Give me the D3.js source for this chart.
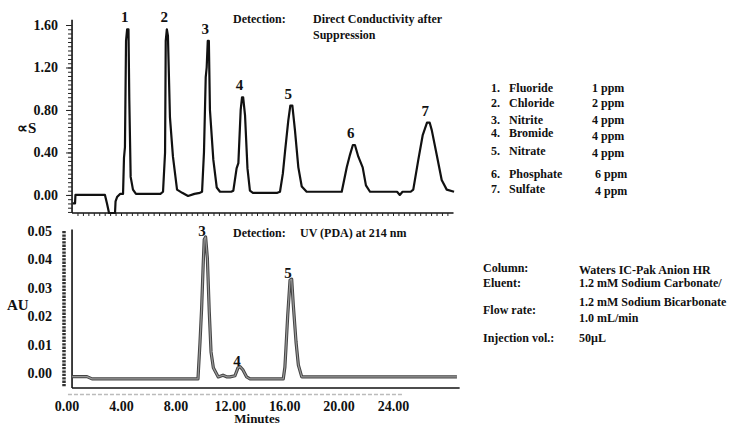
<!DOCTYPE html>
<html>
<head>
<meta charset="utf-8">
<script src="https://cdn.jsdelivr.net/npm/d3@7"></script>
<style>
  body { margin: 0; background: #fff; }
  svg text { font-family: 'Liberation Serif', 'Times New Roman', serif; font-weight: bold; fill: #111; }
</style>
</head>
<body>
<script>
// Conductivity trace (time in min, uS)
var conductivity = [
  [0.45,-0.08],[0.62,-0.08],[0.65,0.00],[2.82,0.00],[2.97,-0.08],[3.12,-0.17],[3.56,-0.17],[3.6,-0.06],[3.71,-0.02],[3.93,0.01],[4.15,0.01],
  [4.22,0.35],[4.29,0.45],[4.37,1.45],[4.45,1.56],[4.55,1.56],[4.61,0.90],[4.71,0.17],[4.88,0.05],[5.1,0.01],[6.9,0.01],
  [7.09,0.03],[7.24,0.40],[7.29,1.45],[7.37,1.56],[7.45,1.50],[7.6,0.73],[7.82,0.36],[8.12,0.05],[8.5,0.02],[8.93,-0.01],[9.4,0.01],[9.8,0.02],
  [9.96,0.03],[10.1,0.40],[10.23,1.11],[10.3,1.20],[10.38,1.45],[10.46,1.45],[10.54,0.80],[10.79,0.33],[11.04,0.07],[11.28,0.03],[12.1,0.03],
  [12.26,0.04],[12.5,0.25],[12.63,0.30],[12.8,0.80],[12.9,0.92],[12.98,0.92],[13.12,0.75],[13.3,0.25],[13.48,0.04],[13.7,0.02],[15.5,0.02],
  [15.69,0.03],[15.9,0.20],[16.07,0.42],[16.3,0.70],[16.45,0.84],[16.6,0.84],[16.79,0.61],[17.04,0.26],[17.29,0.08],[17.65,0.03],[20.0,0.03],
  [20.23,0.03],[20.6,0.26],[20.84,0.38],[21.05,0.47],[21.2,0.47],[21.45,0.36],[21.77,0.26],[22.01,0.09],[22.31,0.03],[24.3,0.03],[24.5,0.00],[24.7,0.03],[25.3,0.03],
  [25.49,0.05],[25.86,0.33],[26.18,0.56],[26.5,0.68],[26.7,0.68],[26.85,0.61],[27.21,0.38],[27.58,0.14],[27.95,0.05],[28.49,0.03]
];

// UV trace (time in min, AU)
var absorbance = [
  [0.42,-0.0013],[1.5,-0.0013],[1.87,-0.0021],[9.66,-0.0021],[9.81,0.0109],[9.93,0.0229],[10.05,0.039],[10.12,0.047],[10.22,0.0479],
  [10.35,0.0405],[10.49,0.0215],[10.62,0.0074],[10.79,0.0018],[11.15,-0.0014],[11.5,-0.0008],[11.8,-0.0014],[12.01,-0.0014],
  [12.38,-0.0010],[12.6,0.0018],[12.75,0.0022],[12.95,0.0012],[13.24,-0.0014],[13.49,-0.0021],[15.93,-0.0021],[16.05,0.002],
  [16.13,0.0088],[16.26,0.0204],[16.43,0.0327],[16.55,0.033],[16.67,0.0239],[16.87,0.0109],[17.04,0.0028],[17.29,-0.0014],[28.7,-0.0014]
];

// Peak numbers, retention times and apex heights
var topPeaks = ['1', '2', '3', '4', '5', '6', '7'];
var topPeakTimes = [4.5, 7.4, 10.42, 12.94, 16.52, 21.12, 26.6];
var topPeakHeights = [1.56, 1.56, 1.45, 0.92, 0.84, 0.47, 0.68];

var uvPeaks = ['3', '4', '5'];
var uvPeakTimes = [10.17, 12.75, 16.5];
var uvPeakHeights = [0.0479, 0.0022, 0.033];

var timeTicks = [0, 4, 8, 12, 16, 20, 24];
var condTicks = [0, 0.4, 0.8, 1.2, 1.6];
var uvTicks = [0, 0.01, 0.02, 0.03, 0.04, 0.05];

var legendNames = ['Fluoride', 'Chloride', 'Nitrite', 'Bromide', 'Nitrate', 'Phosphate', 'Sulfate'];
var legendConc = ['1 ppm', '2 ppm', '4 ppm', '4 ppm', '4 ppm', '6 ppm', '4 ppm'];

var condLabels = ['Column:', 'Eluent:', 'Flow rate:', 'Injection vol.:'];
var condValues = ['Waters IC-Pak Anion HR', '1.2 mM Sodium Carbonate/', '1.2 mM Sodium Bicarbonate', '1.0 mL/min', '50\u00b5L'];

var w = 747,
    h = 427;

var svg = d3.select('body')
            .append('svg')
            .attr('width', w)
            .attr('height', h);

var x = d3.scaleLinear()
          .domain([0, 28.9])
          .range([66.6, 66.6 + 28.9 * 13.6]);

var yTop = d3.scaleLinear()
             .domain([-0.17, 1.60])
             .range([213, 25]);

var yBot = d3.scaleLinear()
             .domain([-0.0053, 0.05])
             .range([388, 231]);

// ---- top panel axes
svg.append('line')
   .attr('x1', x(0.4)).attr('x2', x(0.4))
   .attr('y1', yTop(1.65)).attr('y2', yTop(-0.17))
   .style('stroke', '#111').style('stroke-width', 1.6);

svg.append('line')
   .attr('x1', x(0.4)).attr('x2', x(28.45))
   .attr('y1', yTop(-0.17)).attr('y2', yTop(-0.17))
   .style('stroke', '#111').style('stroke-width', 1.6);

// minor ticks, left side
svg.append('g')
   .attr('class', 'minor')
   .attr('transform', 'translate(' + x(0.4) + ',0)')
   .call(d3.axisLeft(yTop).tickValues(d3.range(-0.16, 1.64, 0.04)).tickSize(4).tickFormat(''));

// minor ticks, bottom side
svg.append('g')
   .attr('class', 'minor')
   .attr('transform', 'translate(0,' + yTop(-0.17) + ')')
   .call(d3.axisBottom(x).tickValues(d3.range(0.8, 28.4, 0.4)).tickSize(3).tickFormat(''));

svg.append('g')
   .attr('class', 'major')
   .attr('transform', 'translate(' + x(0.4) + ',0)')
   .call(d3.axisLeft(yTop).tickValues(condTicks).tickSize(6).tickPadding(8).tickFormat(d3.format('.2f')));

// ---- bottom panel axes
svg.append('line')
   .attr('x1', x(0.4)).attr('x2', x(0.4))
   .attr('y1', yBot(0.0505)).attr('y2', yBot(-0.0053))
   .style('stroke', '#111').style('stroke-width', 1.6);

svg.append('line')
   .attr('x1', x(0.4)).attr('x2', x(28.9))
   .attr('y1', yBot(-0.0053)).attr('y2', yBot(-0.0053))
   .style('stroke', '#111').style('stroke-width', 1.6);

// dotted tick column
svg.append('line')
   .attr('x1', 64).attr('x2', 64)
   .attr('y1', yBot(0.05)).attr('y2', yBot(-0.0047))
   .style('stroke', '#333').style('stroke-width', 3.5)
   .style('stroke-dasharray', '2.3,1.1');

// faint dashed line under the time axis
svg.append('line')
   .attr('x1', x(0.1)).attr('x2', x(24.7))
   .attr('y1', 394.5).attr('y2', 394.5)
   .style('stroke', '#bbb').style('stroke-width', 1.5)
   .style('stroke-dasharray', '4,2');

svg.append('g')
   .attr('class', 'major')
   .attr('transform', 'translate(' + x(0.4) + ',0)')
   .call(d3.axisLeft(yBot).tickValues(uvTicks).tickSize(0).tickPadding(20).tickFormat(d3.format('.2f')));

svg.append('g')
   .attr('class', 'major')
   .attr('transform', 'translate(0,' + yBot(-0.0053) + ')')
   .call(d3.axisBottom(x).tickValues(timeTicks).tickSize(0).tickPadding(13).tickFormat(d3.format('.2f')));

svg.selectAll('.major .domain').remove();
svg.selectAll('.minor .domain').remove();
svg.selectAll('.major text').style('font-size', '14px');
svg.selectAll('.minor line, .major line').style('stroke', '#222');

// ---- traces
var lineTop = d3.line()
                .x(function(d) { return x(d[0]); })
                .y(function(d) { return yTop(d[1]); });

var lineBot = d3.line()
                .x(function(d) { return x(d[0]); })
                .y(function(d) { return yBot(d[1]); });

svg.append('path')
   .datum(conductivity)
   .attr('d', lineTop)
   .style('fill', 'none')
   .style('stroke', '#111')
   .style('stroke-width', 2.2)
   .style('stroke-linejoin', 'round');

svg.append('path')
   .datum(absorbance)
   .attr('d', lineBot)
   .style('fill', 'none')
   .style('stroke', '#444')
   .style('stroke-width', 3.2)
   .style('stroke-linejoin', 'round');

svg.append('path')
   .datum(absorbance)
   .attr('d', lineBot)
   .style('fill', 'none')
   .style('stroke', '#999')
   .style('stroke-width', 1.2)
   .style('stroke-linejoin', 'round');

// ---- peak numbers
svg.selectAll('.ptop')
   .data(topPeaks)
   .enter()
   .append('text')
   .attr('class', 'ptop')
   .attr('x', function(d, i) { return x(topPeakTimes[i]) - 3; })
   .attr('y', function(d, i) { return yTop(topPeakHeights[i]) - 7; })
   .attr('text-anchor', 'middle')
   .style('font-size', '15px')
   .text(function(d) { return d; });

svg.selectAll('.pbot')
   .data(uvPeaks)
   .enter()
   .append('text')
   .attr('class', 'pbot')
   .attr('x', function(d, i) { return x(uvPeakTimes[i]) - 3; })
   .attr('y', function(d, i) { return yBot(uvPeakHeights[i]) - 1; })
   .attr('text-anchor', 'middle')
   .style('font-size', '15px')
   .text(function(d) { return d; });

// ---- axis titles
svg.append('text').attr('x', 17).attr('y', 133).style('font-size', '15px').text('\u221dS');
svg.append('text').attr('x', 7).attr('y', 310).style('font-size', '15px').text('AU');
svg.append('text').attr('x', 257).attr('y', 423).attr('text-anchor', 'middle')
   .style('font-size', '13px').text('Minutes');

// ---- detection notes
var note = svg.append('g').style('font-size', '12px');
note.append('text').attr('x', 233).attr('y', 23).text('Detection:');
note.append('text').attr('x', 313).attr('y', 23).text('Direct Conductivity after');
note.append('text').attr('x', 313).attr('y', 39).text('Suppression');
note.append('text').attr('x', 233).attr('y', 237).text('Detection:');
note.append('text').attr('x', 300).attr('y', 237).text('UV (PDA) at 214 nm');

// ---- analyte legend
var nameY = [92, 107, 124, 137, 155, 178, 193];
var concY = [92, 107, 124, 140, 157, 178, 195];
var concX = [592, 592, 592, 592, 592, 595, 595];

var legend = svg.append('g').style('font-size', '12px');

legend.selectAll('.num')
      .data(legendNames)
      .enter()
      .append('text')
      .attr('x', 491)
      .attr('y', function(d, i) { return nameY[i]; })
      .text(function(d, i) { return (i + 1) + '.'; });

legend.selectAll('.name')
      .data(legendNames)
      .enter()
      .append('text')
      .attr('x', 509)
      .attr('y', function(d, i) { return nameY[i]; })
      .text(function(d) { return d; });

legend.selectAll('.conc')
      .data(legendConc)
      .enter()
      .append('text')
      .attr('x', function(d, i) { return concX[i]; })
      .attr('y', function(d, i) { return concY[i]; })
      .text(function(d) { return d; });

// ---- method conditions
var labY = [272, 287, 314, 342];
var valY = [274, 287, 306, 322, 342];

var info = svg.append('g').style('font-size', '12px');

info.selectAll('.lab')
    .data(condLabels)
    .enter()
    .append('text')
    .attr('x', 483)
    .attr('y', function(d, i) { return labY[i]; })
    .text(function(d) { return d; });

info.selectAll('.val')
    .data(condValues)
    .enter()
    .append('text')
    .attr('x', 579)
    .attr('y', function(d, i) { return valY[i]; })
    .text(function(d) { return d; });
</script>
</body>
</html>
